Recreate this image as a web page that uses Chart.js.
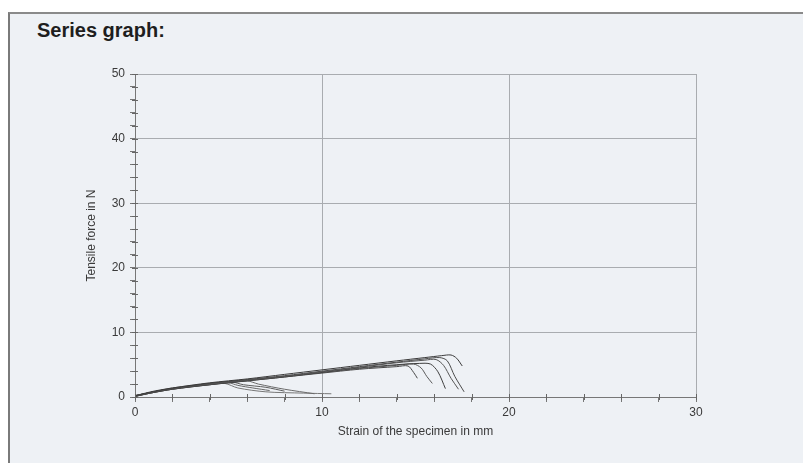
<!DOCTYPE html>
<html>
<head>
<meta charset="utf-8">
<script src="https://cdn.jsdelivr.net/npm/chart.js@4/dist/chart.umd.min.js"></script>
<style>
  html, body { margin: 0; padding: 0; background: #ffffff; }
  #page { position: absolute; left: 0; top: 0; width: 803px; height: 463px; overflow: hidden; background: #ffffff; }
  #sheet { position: absolute; left: 8px; top: 12px; width: 800px; height: 460px; background: #eef1f5; border-left: 2px solid #7a7a7a; border-top: 2px solid #8a8a8a; }
  #title { position: absolute; left: 37px; top: 19px; font-family: "Liberation Sans", Arial, sans-serif; font-weight: bold; font-size: 20px; color: #1e1e1e; }
  #c { position: absolute; left: 0; top: 0; }
</style>
</head>
<body>
<div id="page">
  <div id="sheet"></div>
  <div id="title">Series graph:</div>
  <canvas id="c" width="803" height="463"></canvas>
</div>
<script>
// ---- Data (strain in mm, tensile force in N) ----
const xTickLabels = [0, 10, 20, 30];
const yTickLabels = [0, 10, 20, 30, 40, 50];

const strain1 = [0, 1, 2, 4, 6, 8, 10, 12, 14, 15.5, 16.4, 16.9, 17.2, 17.5];
const force1  = [0.2, 0.9, 1.4, 2.2, 2.8, 3.5, 4.2, 4.9, 5.6, 6.1, 6.4, 6.5, 6.0, 4.8];

const strain2 = [0, 1, 2, 4, 6, 8, 10, 12, 14, 15.5, 16.3, 16.7, 17.1, 17.6];
const force2  = [0.1, 0.8, 1.3, 2.1, 2.7, 3.3, 4.0, 4.7, 5.4, 5.9, 6.1, 5.6, 3.2, 0.8];

const strain3 = [0, 1, 2, 4, 6, 8, 10, 12, 14, 15.5, 16.1, 16.5, 16.9, 17.3];
const force3  = [0.2, 0.8, 1.3, 2.0, 2.6, 3.2, 3.9, 4.6, 5.3, 5.7, 5.8, 4.9, 2.9, 1.2];

const strain4 = [0, 1, 2, 4, 6, 8, 10, 12, 14, 15.2, 15.8, 16.2, 16.6];
const force4  = [0.1, 0.7, 1.2, 1.9, 2.5, 3.1, 3.8, 4.5, 5.0, 5.2, 5.1, 3.9, 1.3];

const strain5 = [0, 1, 2, 4, 6, 8, 10, 12, 14, 14.9, 15.3, 15.6, 15.9];
const force5  = [0.2, 0.8, 1.3, 2.0, 2.6, 3.2, 3.8, 4.4, 4.9, 5.1, 4.5, 3.2, 2.1];

const strain6 = [0, 1, 2, 4, 6, 8, 10, 12, 14, 14.6, 14.9, 15.1];
const force6  = [0.1, 0.7, 1.2, 1.9, 2.5, 3.1, 3.7, 4.3, 4.7, 4.8, 3.8, 2.9];

const strain7 = [0, 1, 2, 3, 4, 5, 5.5, 6.3, 7.2];
const force7  = [0.2, 0.8, 1.3, 1.7, 2.0, 2.2, 1.8, 1.4, 1.0];

const strain8 = [0, 1, 2, 3, 4, 5.2, 5.8, 7.0, 8.0];
const force8  = [0.1, 0.8, 1.3, 1.7, 2.1, 2.3, 1.9, 1.5, 0.9];

const strain9 = [0, 1, 2, 4, 5, 6.0, 6.6, 8.0, 9.6];
const force9  = [0.2, 0.8, 1.4, 2.1, 2.4, 2.5, 2.0, 1.2, 0.5];

const strain10 = [0, 1, 2, 3, 4, 4.8, 5.5, 7.0, 9.0, 10.5];
const force10  = [0.1, 0.7, 1.2, 1.6, 1.9, 2.1, 1.4, 0.8, 0.6, 0.5];

const specimens = [
  [strain1, force1], [strain2, force2], [strain3, force3], [strain4, force4], [strain5, force5],
  [strain6, force6], [strain7, force7], [strain8, force8], [strain9, force9], [strain10, force10]
];

const lineColors = ['#3a3a3a', '#4a4a4a', '#555555', '#3f3f3f', '#5a5a5a', '#474747', '#666666', '#5c5c5c', '#6a6a6a', '#777777'];

const datasets = specimens.map((s, i) => ({
  label: 'Specimen ' + (i + 1),
  data: s[0].map((x, j) => ({ x: x, y: s[1][j] })),
  borderColor: lineColors[i],
  borderWidth: 1,
  pointRadius: 0,
  tension: 0.3,
  fill: false
}));

// Minor tick marks drawn across the axis lines, at library scale positions
const minorTicks = {
  id: 'minorTicks',
  afterDraw(chart) {
    const ctx = chart.ctx;
    const xs = chart.scales.x, ys = chart.scales.y;
    ctx.save();
    ctx.strokeStyle = '#666';
    ctx.lineWidth = 1;
    for (let v = 0; v <= 30; v += 2) {
      const px = Math.round(xs.getPixelForValue(v)) + 0.5;
      const y0 = ys.getPixelForValue(0);
      ctx.beginPath(); ctx.moveTo(px, y0 - 3); ctx.lineTo(px, y0 + 3); ctx.stroke();
    }
    for (let v = 0; v <= 50; v += 2) {
      const py = Math.round(ys.getPixelForValue(v)) + 0.5;
      const x0 = xs.getPixelForValue(0);
      ctx.beginPath(); ctx.moveTo(x0 - 3, py); ctx.lineTo(x0 + 3, py); ctx.stroke();
    }
    ctx.restore();
  }
};

const font = { family: '"Liberation Sans", Arial, sans-serif', size: 12 };
const titleFont = { family: '"Liberation Sans", Arial, sans-serif', size: 12 };

new Chart(document.getElementById('c'), {
  type: 'line',
  data: { datasets: datasets },
  options: {
    responsive: false,
    animation: false,
    layout: { padding: { left: 78, top: 74, right: 107, bottom: 16 } },
    plugins: { legend: { display: false }, tooltip: { enabled: false } },
    scales: {
      x: {
        type: 'linear', min: 0, max: 30,
        afterFit: (s) => { s.height = 50; },
        ticks: {
          stepSize: 2, autoSkip: false, maxRotation: 0, padding: 3,
          color: '#3a3a3a', font: font,
          callback: (v) => xTickLabels.includes(v) ? String(v) : ''
        },
        grid: {
          color: (c) => (c.tick && c.tick.value % 10 === 0) ? '#a9acb0' : 'rgba(0,0,0,0)',
          tickColor: '#777', tickLength: 5, lineWidth: 1
        },
        border: { color: '#777', width: 1 },
        title: {
          display: true, text: 'Strain of the specimen in mm',
          color: '#3a3a3a', font: titleFont,
          padding: { top: 2, bottom: 8 }
        }
      },
      y: {
        type: 'linear', min: 0, max: 50,
        afterFit: (s) => { s.width = 57; },
        ticks: {
          stepSize: 2, autoSkip: false, padding: 5,
          color: '#3a3a3a', font: font,
          callback: (v) => yTickLabels.includes(v) ? String(v) : ''
        },
        grid: {
          color: (c) => (c.tick && c.tick.value % 10 === 0) ? '#a9acb0' : 'rgba(0,0,0,0)',
          tickColor: '#777', tickLength: 5, lineWidth: 1
        },
        border: { color: '#777', width: 1 },
        title: {
          display: true, text: 'Tensile force in N',
          color: '#3a3a3a', font: titleFont,
          padding: { top: 6, bottom: 2 }
        }
      }
    }
  },
  plugins: [minorTicks]
});
</script>
</body>
</html>
